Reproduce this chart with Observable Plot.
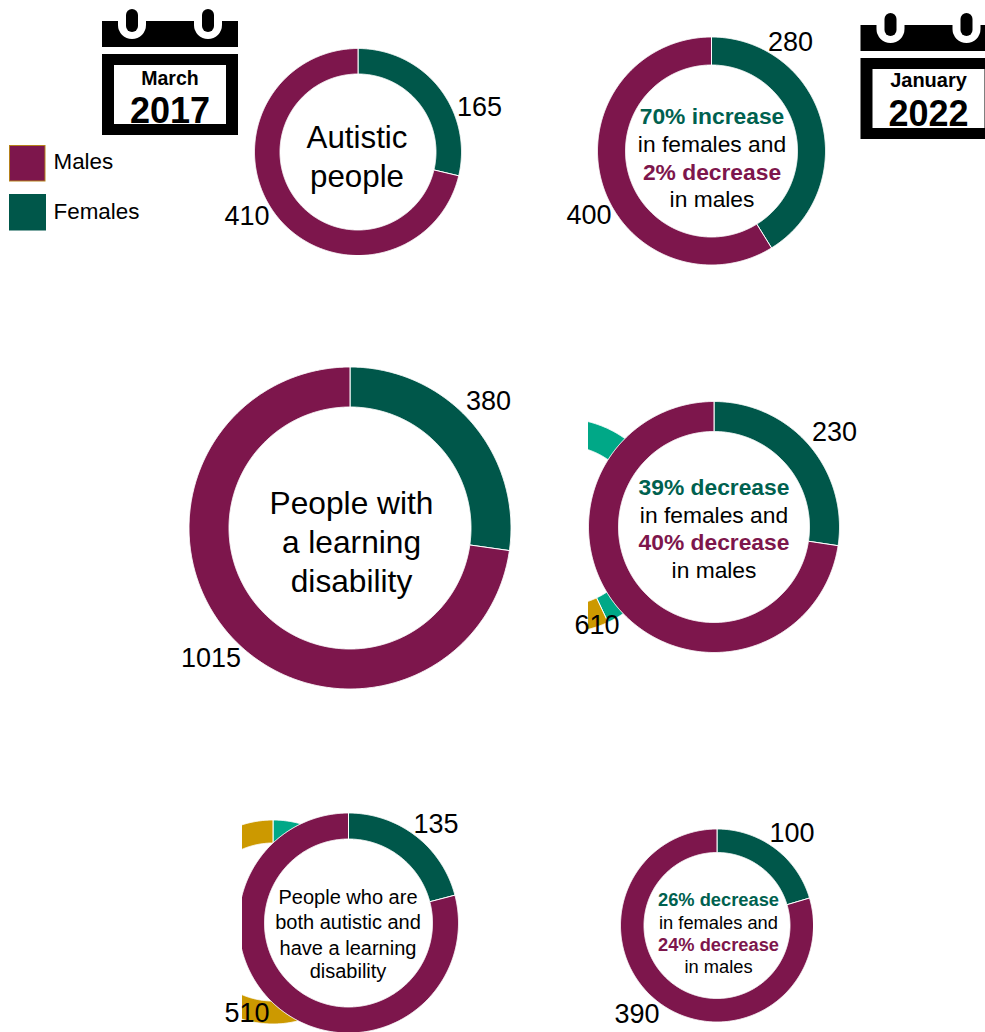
<!DOCTYPE html>
<html>
<head>
<meta charset="utf-8">
<title>Autistic people and people with a learning disability, 2017 and 2022</title>
<script src="https://cdn.jsdelivr.net/npm/d3@7"></script>
<script src="https://cdn.jsdelivr.net/npm/@observablehq/plot@0.6"></script>
<style>
  html, body { margin: 0; padding: 0; background: #fff; }
  svg { display: block; font-family: "Liberation Sans", Arial, sans-serif; }
</style>
</head>
<body>
<div id="chart"></div>
<script>
// Counts per panel, left column March 2017, right column January 2022
const panelIds = ["autistic2017", "autistic2022", "ld2017", "ld2022", "both2017", "both2022"];
const femaleCounts = [165, 280, 380, 230, 135, 100];
const maleCounts = [410, 400, 1015, 610, 510, 390];

// Ring geometry per panel
const ringCx = [357.5, 711, 349.5, 713.5, 348, 716.5];
const ringCy = [151.5, 150.5, 527.5, 526.5, 922.5, 925];
const ringOuter = [103.5, 114, 161, 125.5, 110, 96.5];
const ringInner = [78, 86, 121, 95.5, 84, 73];

// Value label positions per panel
const femaleLabelX = [479, 790, 488, 834, 435.5, 791.5];
const femaleLabelY = [115, 50, 409, 440, 832, 841];
const maleLabelX = [246.5, 588.5, 210.5, 596.5, 246.5, 636.5];
const maleLabelY = [224, 223, 666, 633, 1021, 1022];

// Fragments of the older teal and gold rings showing behind two panels
const underlayIds = ["underA", "underB"];
const underlayTeal = [43, 21];
const underlayGold = [57, 79];
const underlayCx = [562, 272.5];
const underlayCy = [525, 921.5];
const underlayOuter = [107, 102];
const underlayInner = [80, 79];

const MALE = "#7D164C";
const FEMALE = "#00574A";
const TEAL = "#00A887";
const GOLD = "#CC9900";
const BODY_FONT = 22.8;

// Caption lines inside each ring
const captions = [
  {cx: 356.5, size: 31.3, lines: [["Autistic", 147, 0], ["people", 186, 0]]},
  {cx: 711.5, size: BODY_FONT, lines: [["70% increase", 123, 1], ["in females and", 151, 0], ["2% decrease", 179, 2], ["in males", 206, 0]]},
  {cx: 351, size: 31.7, lines: [["People with", 513, 0], ["a learning", 552, 0], ["disability", 591, 0]]},
  {cx: 713.5, size: BODY_FONT, lines: [["39% decrease", 494, 1], ["in females and", 522, 0], ["40% decrease", 549.5, 2], ["in males", 577, 0]]},
  {cx: 347.5, size: 20, lines: [["People who are", 903, 0], ["both autistic and", 928, 0], ["have a learning", 954, 0], ["disability", 977, 0]]},
  {cx: 718, size: 18.3, lines: [["26% decrease", 905, 1], ["in females and", 928, 0], ["24% decrease", 950, 2], ["in males", 972, 0]]}
];
const captionColors = ["#000", "#00614F", MALE];

// Outline of one ring segment, clockwise from the top of the ring
function segment(id, cx, cy, inner, outer, from, to, color) {
  const n = Math.max(2, Math.ceil((to - from) * 180));
  const pt = (a, r) => ({id, color, x: cx + r * Math.sin(a), y: cy - r * Math.cos(a)});
  const angles = d3.range(n + 1).map((i) => from + (to - from) * i / n);
  const path = [...angles.map((a) => pt(a, outer)), ...angles.reverse().map((a) => pt(a, inner))];
  path.push(path[0]);
  return path;
}

function ring(id, cx, cy, inner, outer, first, second, colors) {
  const split = 2 * Math.PI * first / (first + second);
  return [
    ...segment(id + "-a", cx, cy, inner, outer, 0, split, colors[0]),
    ...segment(id + "-b", cx, cy, inner, outer, split, 2 * Math.PI, colors[1])
  ];
}

const mainRings = panelIds.flatMap((id, i) =>
  ring(id, ringCx[i], ringCy[i], ringInner[i], ringOuter[i], femaleCounts[i], maleCounts[i], [FEMALE, MALE]));
const underRings = underlayIds.flatMap((id, i) =>
  ring(id, underlayCx[i], underlayCy[i], underlayInner[i], underlayOuter[i], underlayTeal[i], underlayGold[i], [TEAL, GOLD]));

// White discs hide the older rings inside the panels drawn over them
const underlayCovers = [3, 4].map((i) => ({x: ringCx[i], y: ringCy[i], r: ringOuter[i]}));

// Frames that trim the older rings and the edges of the panels
const underlayTrims = [
  {x1: 440, x2: 588, y1: 410, y2: 645},
  {x1: 160, x2: 242, y1: 812, y2: 1032}
];
const edgeTrims = [
  {x1: 250, x2: 470, y1: 255, y2: 262},
  {x1: 232, x2: 242, y1: 812, y2: 1032},
  {x1: 461, x2: 470, y1: 812, y2: 1032},
  {x1: 813, x2: 822, y1: 829, y2: 1032}
];

const valueLabels = panelIds.flatMap((id, i) => [
  {text: String(femaleCounts[i]), x: femaleLabelX[i], y: femaleLabelY[i]},
  {text: String(maleCounts[i]), x: maleLabelX[i], y: maleLabelY[i]}
]);

const captionRows = captions.flatMap((c) =>
  c.lines.map(([text, y, tone]) => ({text, y, tone, x: c.cx, size: c.size})));

// Calendar icons
const calendars = [
  {dx: 0, dy: 0, month: "March", year: "2017", monthY: 84, yearY: 122, monthSize: 19.5},
  {dx: 758.5, dy: 4, month: "January", year: "2022", monthY: 86, yearY: 125, monthSize: 20}
];
const calendarPegOffsets = [0, 76];
const shift = (c, r) => ({x1: r[0] + c.dx, x2: r[1] + c.dx, y1: r[2] + c.dy, y2: r[3] + c.dy});
const calendarBlocks = calendars.flatMap((c) => [shift(c, [102, 238, 21, 47]), shift(c, [102, 238, 54, 135])]);
const calendarPanes = calendars.map((c) => shift(c, [114, 226, 65, 124]));
const calendarNotches = calendars.flatMap((c) => calendarPegOffsets.map((o) => shift(c, [118 + o, 146 + o, 5, 39])));
const calendarPegs = calendars.flatMap((c) => calendarPegOffsets.map((o) => shift(c, [126 + o, 138 + o, 9, 32])));

// Legend
const legendNames = ["Males", "Females"];
const legendRows = [
  {name: legendNames[0], fill: MALE, stroke: "#B5811A", x1: 9.5, x2: 45, y1: 145.5, y2: 181, tx: 53, ty: 168},
  {name: legendNames[1], fill: FEMALE, stroke: FEMALE, x1: 9.5, x2: 45.5, y1: 194.5, y2: 230, tx: 53, ty: 218}
];

const rectOf = {x1: "x1", x2: "x2", y1: "y1", y2: "y2"};
const labelOf = {x: "x", y: "y", text: "text", lineAnchor: "bottom", fill: "#000"};

const chart = Plot.plot({
  width: 985,
  height: 1032,
  margin: 0,
  x: {domain: [0, 985], range: [0, 985], axis: null},
  y: {domain: [0, 1032], range: [0, 1032], axis: null},
  r: {type: "identity"},
  color: {type: "identity"},
  style: {background: "#fff", fontFamily: '"Liberation Sans", Arial, sans-serif'},
  marks: [
    // older rings behind the panels
    Plot.line(underRings, {x: "x", y: "y", z: "id", fill: "color", stroke: "#fff", strokeWidth: 1}),
    Plot.rect(underlayTrims, {...rectOf, fill: "#fff"}),
    Plot.dot(underlayCovers, {x: "x", y: "y", r: "r", fill: "#fff"}),

    // panel rings
    Plot.line(mainRings, {x: "x", y: "y", z: "id", fill: "color", stroke: "#fff", strokeWidth: 1}),
    Plot.rect(edgeTrims, {...rectOf, fill: "#fff"}),

    // calendars
    Plot.rect(calendarBlocks, {...rectOf, fill: "#000"}),
    Plot.rect(calendarPanes, {...rectOf, fill: "#fff"}),
    Plot.rect(calendarNotches, {...rectOf, fill: "#fff", rx: 14}),
    Plot.rect(calendarPegs, {...rectOf, fill: "#000", rx: 6}),
    Plot.text(calendars, {x: (c) => 169.5 + c.dx, y: "monthY", text: "month", lineAnchor: "bottom", fontWeight: "bold", fontSize: (c) => c.monthSize, fill: "#000"}),
    Plot.text(calendars, {x: (c) => 169.5 + c.dx, y: "yearY", text: "year", lineAnchor: "bottom", fontWeight: "bold", fontSize: 36, fill: "#000"}),

    // legend
    Plot.rect(legendRows, {...rectOf, fill: "fill", stroke: "stroke", strokeWidth: 1}),
    Plot.text(legendRows, {x: "tx", y: "ty", text: "name", textAnchor: "start", lineAnchor: "bottom", fontSize: 22.4, fill: "#000"}),

    // captions and counts
    Plot.text(captionRows.filter((d) => d.tone === 0), {...labelOf, fontSize: "size"}),
    Plot.text(captionRows.filter((d) => d.tone !== 0), {...labelOf, fontSize: "size", fontWeight: "bold", fill: (d) => captionColors[d.tone]}),
    Plot.text(valueLabels, {...labelOf, fontSize: 27})
  ]
});

document.getElementById("chart").append(chart);
</script>
</body>
</html>
